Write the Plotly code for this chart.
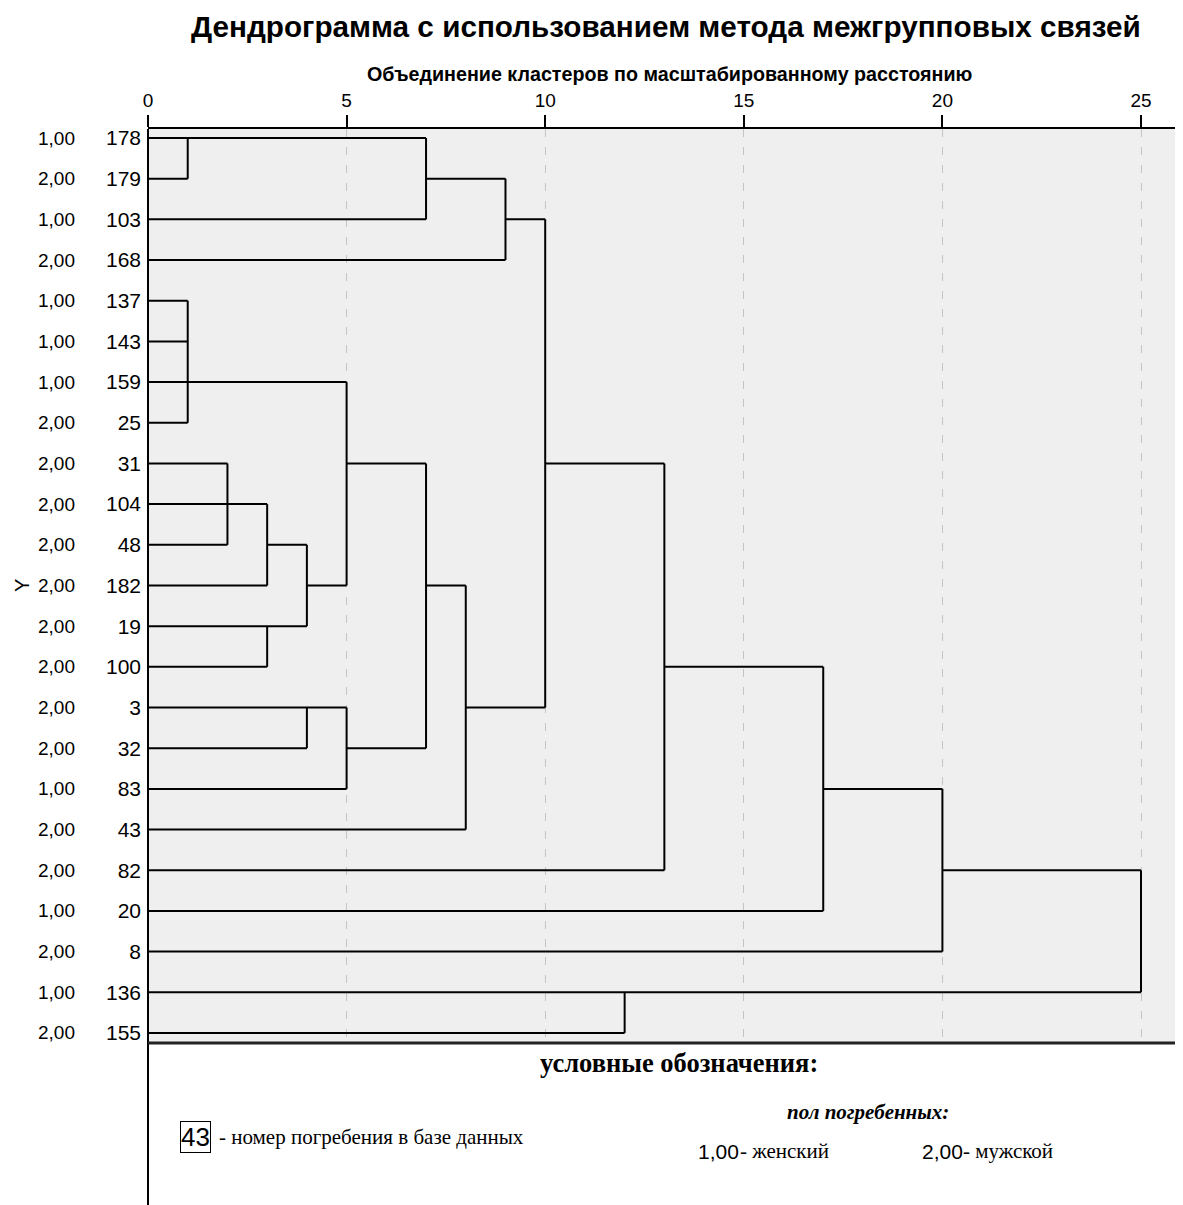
import plotly.graph_objects as go

# ---------------- data ----------------
leaf_ids = ["178", "179", "103", "168", "137", "143", "159", "25", "31", "104", "48",
            "182", "19", "100", "3", "32", "83", "43", "82", "20", "8", "136", "155"]
sex_codes = ["1,00", "2,00", "1,00", "2,00", "1,00", "1,00", "1,00", "2,00", "2,00", "2,00", "2,00",
             "2,00", "2,00", "2,00", "2,00", "2,00", "1,00", "2,00", "2,00", "1,00", "2,00", "1,00", "2,00"]
# horizontal segments: (row index, x_start, x_end) on rescaled distance
h_row = [0, 1, 2, 3, 4, 5, 6, 7, 8, 9, 10, 11, 12, 13, 14, 15, 16, 17, 18, 19, 20, 21, 22,
         1, 2, 10, 11, 8, 15, 11, 14, 8, 13, 16, 18]
h_x0 = [0, 0, 0, 0, 0, 0, 0, 0, 0, 0, 0, 0, 0, 0, 0, 0, 0, 0, 0, 0, 0, 0, 0,
        7, 9, 3, 4, 5, 5, 7, 8, 10, 13, 17, 20]
h_x1 = [7, 1, 7, 9, 1, 1, 5, 1, 2, 3, 2, 3, 4, 3, 5, 4, 5, 8, 13, 17, 20, 25, 12,
        9, 10, 4, 5, 7, 7, 8, 10, 13, 17, 20, 25]
# vertical segments: (x, row_start, row_end)
v_x = [1, 7, 9, 10, 1, 5, 2, 3, 4, 3, 7, 4, 5, 8, 13, 17, 20, 25, 12]
v_r0 = [0, 0, 1, 2, 4, 6, 8, 9, 10, 12, 8, 14, 14, 11, 8, 13, 16, 18, 21]
v_r1 = [1, 2, 3, 14, 7, 11, 10, 11, 12, 13, 15, 15, 16, 17, 18, 19, 20, 21, 22]
x_ticks = [0, 5, 10, 15, 20, 25]

# ---------------- geometry (page px; the page body has an 8px margin) ----------------
OFF = 8
W, H = 1183 - OFF, 1205 - OFF
ML = 148 - OFF
MT = 129 - OFF
MR = 0
MB = H - (1043 - OFF)
PW, PH = W - ML - MR, H - MT - MB
ROW = 40.68

def px_x(px):
    return (px - OFF - ML) / PW

def px_y(py):
    return (H - MB - (py - OFF)) / PH

xs, ys = [], []
for r, a, b in zip(h_row, h_x0, h_x1):
    xs += [a, b, None]
    ys += [r, r, None]
for x, a, b in zip(v_x, v_r0, v_r1):
    xs += [x, x, None]
    ys += [a, b, None]

fig = go.Figure()
fig.add_trace(go.Scatter(x=xs, y=ys, mode="lines",
                         line=dict(color="black", width=2),
                         hoverinfo="skip", showlegend=False, cliponaxis=False))

SANS = "Liberation Sans, Arial, sans-serif"
SERIF = "Liberation Serif, Times New Roman, serif"

y_top = -9 / ROW
y_bot = y_top + PH / ROW

fig.update_layout(
    width=W, height=H,
    margin=dict(l=ML, r=MR, t=MT, b=MB, pad=0),
    paper_bgcolor="white",
    plot_bgcolor="#efefef",
    showlegend=False,
    font=dict(family=SANS, color="black"),
    xaxis=dict(side="top", range=[0, PW / 39.72], tickvals=x_ticks,
               ticktext=[str(t) for t in x_ticks],
               tickfont=dict(size=19, color="black"),
               ticks="outside", ticklen=12, tickwidth=2, tickcolor="black",
               showline=True, linewidth=2, linecolor="black",
               showgrid=True, gridcolor="#c4c4c4", gridwidth=1.2, griddash="8px,10px",
               zeroline=False, fixedrange=True),
    yaxis=dict(range=[y_bot, y_top], tickvals=list(range(len(leaf_ids))),
               ticktext=leaf_ids, tickfont=dict(size=21, color="black"),
               ticks="", showline=False, showgrid=False, zeroline=False,
               ticklabelstandoff=6, fixedrange=True),
)

shapes = [
    dict(type="line", xref="paper", yref="paper", x0=0, x1=0, y0=1, y1=px_y(1205),
         line=dict(color="black", width=2)),
    dict(type="line", xref="paper", yref="paper", x0=0, x1=1, y0=0, y1=0,
         line=dict(color="#222222", width=3)),
]
fig.update_layout(shapes=shapes)

ann = []
for i, s in enumerate(sex_codes):
    ann.append(dict(text=s, xref="paper", yref="y", x=px_x(77), y=i,
                    xanchor="right", yanchor="middle", showarrow=False,
                    font=dict(size=19, family=SANS, color="black")))
ann.append(dict(text="Y", xref="paper", yref="paper", x=px_x(22), y=px_y(586),
                xanchor="center", yanchor="middle", showarrow=False, textangle=-90,
                font=dict(size=20, family=SANS, color="black")))
ann.append(dict(text="<b>Дендрограмма с использованием метода межгрупповых связей</b>",
                xref="paper", yref="paper", x=px_x(666), y=px_y(27),
                xanchor="center", yanchor="middle", showarrow=False,
                font=dict(size=29.7, family=SANS, color="black")))
ann.append(dict(text="<b>Объединение кластеров по масштабированному расстоянию</b>",
                xref="paper", yref="paper", x=px_x(670), y=px_y(74),
                xanchor="center", yanchor="middle", showarrow=False,
                font=dict(size=19.7, family=SANS, color="black")))
ann.append(dict(text="<b>условные обозначения:</b>",
                xref="paper", yref="paper", x=px_x(679), y=px_y(1063),
                xanchor="center", yanchor="middle", showarrow=False,
                font=dict(size=26.5, family=SERIF, color="black")))
ann.append(dict(text="<b><i>пол погребенных:</i></b>",
                xref="paper", yref="paper", x=px_x(868), y=px_y(1112),
                xanchor="center", yanchor="middle", showarrow=False,
                font=dict(size=21, family=SERIF, color="black")))
ann.append(dict(text="43", xref="paper", yref="paper", x=px_x(180), y=px_y(1137),
                xanchor="left", yanchor="middle", showarrow=False,
                bordercolor="black", borderwidth=1, borderpad=0,
                font=dict(size=26, family=SANS, color="black")))
ann.append(dict(text="- номер погребения в базе данных",
                xref="paper", yref="paper", x=px_x(217), y=px_y(1137),
                xanchor="left", yanchor="middle", showarrow=False,
                font=dict(size=21, family=SERIF, color="black")))
for label, txt, x0, x1 in [("1,00", "- женский", 696, 738), ("2,00", "- мужской", 920, 961)]:
    ann.append(dict(text=label, xref="paper", yref="paper", x=px_x(x0), y=px_y(1151),
                    xanchor="left", yanchor="middle", showarrow=False,
                    font=dict(size=21, family=SANS, color="black")))
    ann.append(dict(text=txt, xref="paper", yref="paper", x=px_x(x1), y=px_y(1151),
                    xanchor="left", yanchor="middle", showarrow=False,
                    font=dict(size=21, family=SERIF, color="black")))
fig.update_layout(annotations=ann)

fig.write_html("out.html")
